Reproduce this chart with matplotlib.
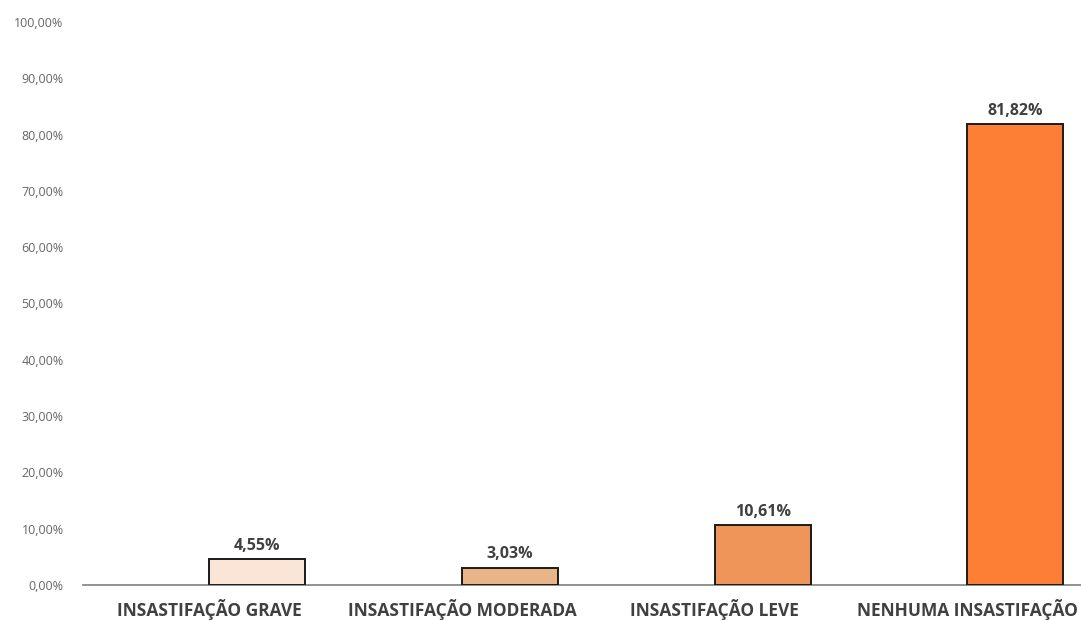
import numpy as np
import matplotlib.pyplot as plt
from matplotlib.ticker import FuncFormatter

plt.rcParams['font.family'] = ['Open Sans', 'DejaVu Sans']

# data
categories = ['INSASTIFAÇÃO GRAVE', 'INSASTIFAÇÃO MODERADA',
              'INSASTIFAÇÃO LEVE', 'NENHUMA INSASTIFAÇÃO']
values = [4.55, 3.03, 10.61, 81.82]
bar_colors = ['#FBE5D6', '#E8B488', '#F0955A', '#FD7E35']
y_ticks = np.arange(0, 101, 10)

fig = plt.figure(figsize=(10.81, 6.2), dpi=100)
ax = fig.add_axes([83 / 1081, 35 / 620, 1 - 83 / 1081, (585 - 22) / 620])

x = np.arange(len(categories))
ax.bar(x, values, width=0.38, align='edge', color=bar_colors,
       edgecolor='#1a1a1a', linewidth=1.4, zorder=3)

for xi, v in zip(x, values):
    ax.text(xi + 0.19, v + 1.0, f'{v:.2f}%'.replace('.', ','),
            ha='center', va='bottom', fontsize=11.5, fontweight='bold',
            color='#404040')

ax.set_xlim(-0.5, 3.45)
ax.set_ylim(0, 100)
ax.set_yticks(y_ticks)
ax.yaxis.set_major_formatter(FuncFormatter(lambda v, p: f'{v:.2f}%'.replace('.', ',')))
ax.set_xticks(x)
ax.set_xticklabels(categories, fontsize=12.5, fontweight='bold', color='#404040')

ax.tick_params(axis='y', length=0, labelsize=9, labelcolor='#666666', pad=14)
ax.tick_params(axis='x', length=0, pad=10)

for side in ['top', 'right', 'left']:
    ax.spines[side].set_visible(False)
ax.spines['bottom'].set_color('#7f7f7f')
ax.spines['bottom'].set_linewidth(1.2)

fig.savefig('out.png', dpi=100)
